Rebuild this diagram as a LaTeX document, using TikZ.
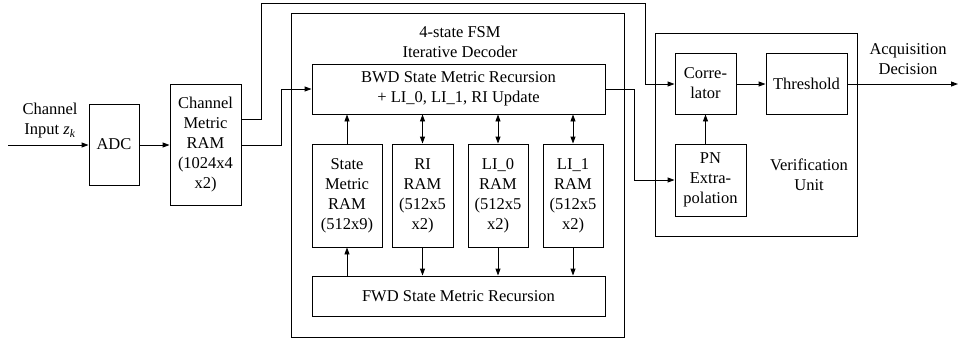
\documentclass[tikz,border=0pt]{standalone}
\usepackage{fontspec}
\setmainfont{Liberation Serif}
\newfontfamily\tnr{Liberation Serif}
\usetikzlibrary{arrows.meta}
\begin{document}
\begin{tikzpicture}[x=1pt,y=-1pt,
  box/.style={draw,line width=0.9pt,align=center,inner sep=0pt,font=\tnr\fontsize{16.5}{20}\selectfont},
  lbl/.style={align=center,inner sep=0pt,font=\tnr\fontsize{16.5}{20}\selectfont},
  conn/.style={line width=0.9pt,-{Triangle[length=7pt,width=5pt]}},
  dconn/.style={line width=0.9pt,{Triangle[length=7pt,width=5pt]}-{Triangle[length=7pt,width=5pt]}}]
\useasboundingbox (0,0) rectangle (959,341);
% outer boxes
\node[box,minimum width=333pt,minimum height=324pt] (fsm) at (457.5,175) {};
\node[box,minimum width=202pt,minimum height=203pt] (vu) at (756,134.5) {};
% blocks
\node[box,minimum width=50pt,minimum height=81pt] (adc) at (114,144.5) {ADC};
\node[box,minimum width=71pt,minimum height=121pt] (cmr) at (205.5,144.5) {Channel\\Metric\\RAM\\(1024x4\\x2)};
\node[box,minimum width=293pt,minimum height=50pt] (bwd) at (458.5,89) {BWD State Metric Recursion\\+ LI\_0, LI\_1, RI Update};
\node[box,minimum width=70pt,minimum height=103pt] (sm) at (347,195.5) {State\\Metric\\RAM\\(512x9)};
\node[box,minimum width=61pt,minimum height=103pt] (ri) at (422.5,195.5) {RI\\RAM\\(512x5\\x2)};
\node[box,minimum width=60pt,minimum height=103pt] (li0) at (498,195.5) {LI\_0\\RAM\\(512x5\\x2)};
\node[box,minimum width=60pt,minimum height=103pt] (li1) at (573,195.5) {LI\_1\\RAM\\(512x5\\x2)};
\node[box,minimum width=293pt,minimum height=40pt] (fwd) at (458.5,296) {FWD State Metric Recursion};
\node[box,minimum width=61pt,minimum height=61pt] (corr) at (705.5,83.5) {Corre-\\lator};
\node[box,minimum width=81pt,minimum height=61pt] (thr) at (806.5,83.5) {Threshold};
\node[box,minimum width=71pt,minimum height=72pt] (pn) at (710.5,180) {PN\\Extra-\\polation};
% labels
\node[lbl] (fsmt) at (460,42) {4-state FSM\\Iterative Decoder};
\node[lbl] (vut) at (809,175) {Verification\\Unit};
\node[lbl] (cin) at (50,121) {Channel\\Input {\itshape z}\textsubscript{\itshape k}};
\node[lbl] (acq) at (908,59) {Acquisition\\Decision};
% coordinates
\coordinate (in) at (8,145);
\coordinate (out) at (958,84);
% connectors
\draw[conn] (in) -- (adc.west |- in);
\draw[conn] (adc.east |- 0,145) -- (cmr.west |- 0,145);
\draw[conn] (cmr.east |- 0,119) -- (261,119) -- (261,3) -- (645,3) -- (645,84) -- (corr.west |- 0,84);
\draw[conn] (cmr.east |- 0,145) -- (281,145) -- (281,89) -- (bwd.west);
\draw[conn] (bwd.east) -- (634,89) -- (634,180) -- (pn.west);
\draw[conn] (corr.east |- 0,84) -- (thr.west |- 0,84);
\draw[conn] (thr.east |- 0,84) -- (out);
\draw[conn] (corr.south |- pn.north) -- (corr.south);
\draw[conn] (sm.north) -- (sm.north |- bwd.south);
\draw[conn] (sm.south |- fwd.north) -- (sm.south);
\draw[dconn] (ri.north) -- (ri.north |- bwd.south);
\draw[dconn] (li0.north) -- (li0.north |- bwd.south);
\draw[dconn] (li1.north) -- (li1.north |- bwd.south);
\draw[conn] (ri.south) -- (ri.south |- fwd.north);
\draw[conn] (li0.south) -- (li0.south |- fwd.north);
\draw[conn] (li1.south) -- (li1.south |- fwd.north);
\end{tikzpicture}
\end{document}
